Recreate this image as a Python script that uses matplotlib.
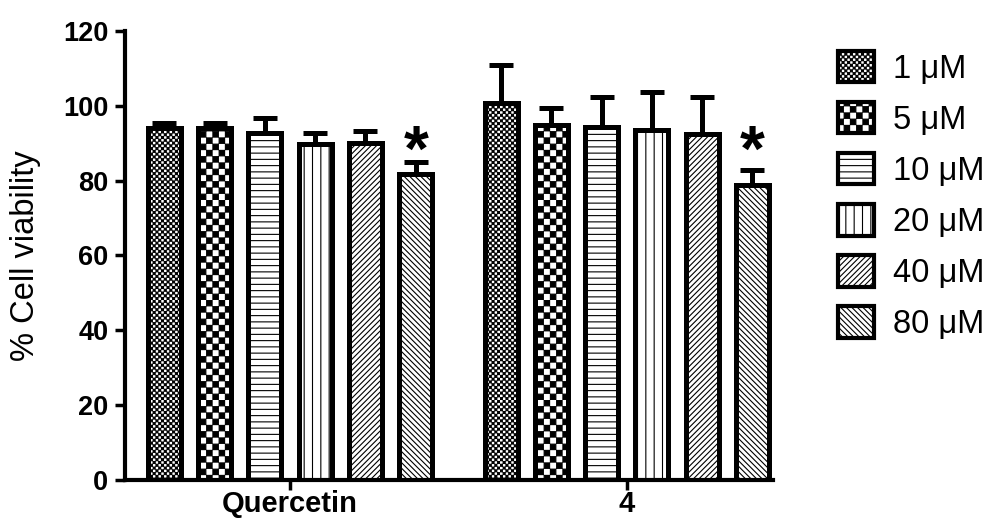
import warnings
import numpy as np
import matplotlib
matplotlib.use("Agg")
import matplotlib.pyplot as plt
import matplotlib.hatch as mhatch
from matplotlib.path import Path
from matplotlib.patches import Patch

warnings.filterwarnings("ignore")

# ---------------- data ----------------
groups = ["Quercetin", "4"]
concentrations = ["1 μM", "5 μM", "10 μM", "20 μM", "40 μM", "80 μM"]
quercetin_mean = [94.0, 94.0, 92.7, 89.9, 90.2, 81.9]
quercetin_err = [1.4, 1.4, 4.0, 2.9, 3.1, 3.1]
cmpd4_mean = [100.7, 94.9, 94.4, 93.6, 92.6, 78.9]
cmpd4_err = [10.2, 4.6, 7.9, 10.0, 9.7, 3.9]
significant = [[False, False, False, False, False, True],
               [False, False, False, False, False, True]]
y_ticks = [0, 20, 40, 60, 80, 100, 120]


# ---------------- custom hatch patterns ----------------
def _checker(m, inset=0.004):
    verts, codes = [], []
    c = 1.0 / m
    for i in range(m):
        for j in range(m):
            if (i + j) % 2 == 0:
                x0, y0 = i * c + inset, j * c + inset
                x1, y1 = (i + 1) * c - inset, (j + 1) * c - inset
                verts += [(x0, y0), (x1, y0), (x1, y1), (x0, y1), (x0, y0)]
                codes += [Path.MOVETO, Path.LINETO, Path.LINETO, Path.LINETO, Path.CLOSEPOLY]
    return np.array(verts, float), np.array(codes, Path.code_type)


def _hlines(k):
    verts, codes = [], []
    for i in range(k):
        y = (i + 0.5) / k
        verts += [(-0.05, y), (1.05, y)]
        codes += [Path.MOVETO, Path.LINETO]
    return np.array(verts, float), np.array(codes, Path.code_type)


def _vlines(k):
    verts, codes = [], []
    for i in range(k):
        x = (i + 0.5) / k
        verts += [(x, -0.05), (x, 1.05)]
        codes += [Path.MOVETO, Path.LINETO]
    return np.array(verts, float), np.array(codes, Path.code_type)


def _diag(k, forward=True):
    verts, codes = [], []
    for i in range(-k, k + 1):
        c = i / k
        if forward:
            verts += [(-0.1, -0.1 + c), (1.1, 1.1 + c)]
        else:
            verts += [(-0.1, 1.1 + c), (1.1, -0.1 + c)]
        codes += [Path.MOVETO, Path.LINETO]
    return np.array(verts, float), np.array(codes, Path.code_type)


def _register(char, builder):
    class _H(mhatch.HatchPatternBase):
        def __init__(self, hatch, density):
            if hatch is not None and char in hatch:
                self._v, self._c = builder()
                self.num_vertices = len(self._v)
            else:
                self.num_vertices = 0

        def set_vertices_and_codes(self, vertices, codes):
            vertices[:] = self._v
            codes[:] = self._c
    mhatch._hatch_types.append(_H)


_register("c", lambda: _checker(36))
_register("k", lambda: _checker(16))
_register("h", lambda: _hlines(16))
_register("v", lambda: _vlines(12))
_register("f", lambda: _diag(18, True))
_register("b", lambda: _diag(18, False))
hatches = ["c", "k", "h", "v", "f", "b"]

# ---------------- figure ----------------
plt.rcParams["font.family"] = ["Liberation Sans", "DejaVu Sans"]
plt.rcParams["hatch.linewidth"] = 0.8
plt.rcParams["hatch.color"] = "black"

fig = plt.figure(figsize=(9.98, 5.21), dpi=100)
ax = fig.add_axes([0.1253, 0.0787, 0.7745 - 0.1253, 0.9405 - 0.0787])

pitch = 0.1493
bar_w = 0.098
means = [quercetin_mean, cmpd4_mean]
errs = [quercetin_err, cmpd4_err]

for g in range(len(groups)):
    for i in range(len(concentrations)):
        x = g + (i - 2.5) * pitch
        ax.errorbar(x, means[g][i], yerr=[[0], [errs[g][i]]], fmt="none",
                    ecolor="black", elinewidth=3.6, capsize=8.5, capthick=3.6,
                    zorder=1)
        ax.bar(x, means[g][i], width=bar_w, facecolor="white", edgecolor="black",
               linewidth=3.6, hatch=hatches[i], zorder=2)
        if significant[g][i]:
            ax.text(x, 87.2, "*", ha="center", va="center", fontsize=46,
                    fontweight="bold", zorder=3)

ax.set_xlim(-0.49, 1.434)
ax.set_ylim(0, 120)
ax.set_yticks(y_ticks)
ax.set_xticks(range(len(groups)))
ax.set_xticklabels(groups, fontsize=21, fontweight="bold")
ax.set_yticklabels([str(t) for t in y_ticks], fontsize=19.5, fontweight="bold")
ax.set_ylabel("% Cell viability", fontsize=23.5, labelpad=16)

for s in ["top", "right"]:
    ax.spines[s].set_visible(False)
for s in ["left", "bottom"]:
    ax.spines[s].set_linewidth(3.0)
ax.tick_params(axis="both", width=2.5, length=7, direction="out")
ax.tick_params(axis="x", pad=0.5)
ax.tick_params(axis="y", pad=5)

handles = [Patch(facecolor="white", edgecolor="black", linewidth=3.0, hatch=h)
           for h in hatches]
leg = ax.legend(handles, concentrations, loc="upper left",
                bbox_to_anchor=(838 / 998, 1 - 51 / 521),
                bbox_transform=fig.transFigure, frameon=False, fontsize=23.5,
                handlelength=1.1, handleheight=1.1, handletextpad=0.6,
                labelspacing=0.53, borderpad=0, borderaxespad=0)

fig.savefig("out.png", dpi=100)
